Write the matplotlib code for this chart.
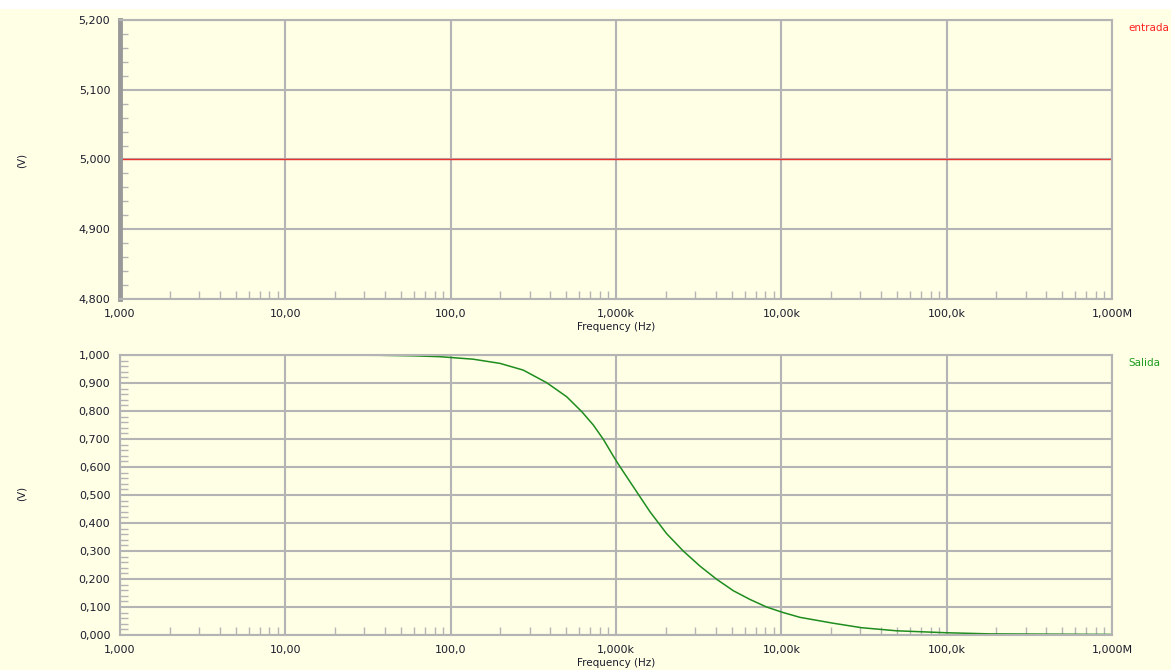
import matplotlib.pyplot as plt
from matplotlib.patches import Rectangle

# datos
freq_in = [1, 1e6]
entrada = [5.0, 5.0]

freq_out = [1, 10, 37, 60, 86, 137, 199, 275, 381, 503, 620, 729, 838, 963,
            1033, 1271, 1606, 2024, 2551, 3221, 4063, 5129, 6460, 8140, 10150,
            12970, 20620, 30600, 49800, 100000, 183000, 1e6]
salida = [1.000, 1.000, 0.999, 0.997, 0.994, 0.985, 0.970, 0.946, 0.901, 0.851,
          0.798, 0.750, 0.699, 0.639, 0.610, 0.530, 0.440, 0.362, 0.300, 0.246,
          0.199, 0.158, 0.127, 0.100, 0.081, 0.063, 0.042, 0.026, 0.015, 0.008,
          0.004, 0.002]

xticks = [1, 10, 100, 1e3, 1e4, 1e5, 1e6]
xlabels = ['1,000', '10,00', '100,0', '1,000k', '10,00k', '100,0k', '1,000M']
yticks_top = [4.8, 4.9, 5.0, 5.1, 5.2]
ylabels_top = ['4,800', '4,900', '5,000', '5,100', '5,200']
yticks_bot = [i / 10 for i in range(11)]
ylabels_bot = ['%.3f' % v for v in yticks_bot]
ylabels_bot = [s.replace('.', ',') for s in ylabels_bot]

bg = '#ffffe6'
gridc = '#b4b4b4'
txt = '#1c1c2c'

W, H = 1171, 670
fig = plt.figure(figsize=(W / 100, H / 100), dpi=100, facecolor=bg)
fig.add_artist(Rectangle((0, 1 - 9 / H), 1, 9 / H, transform=fig.transFigure,
                         facecolor='white', edgecolor='none'))

x0, x1 = 120 / W, 1112 / W
ax1 = fig.add_axes([x0, 1 - 299 / H, x1 - x0, 279 / H])
ax2 = fig.add_axes([x0, 1 - 635 / H, x1 - x0, 280 / H])


def style(ax, yticks, ylabels, ymin, ymax, minor_step):
    ax.set_facecolor(bg)
    ax.set_xscale('log')
    ax.set_xlim(1, 1e6)
    ax.set_ylim(ymin, ymax)
    ax.set_xticks(xticks, xlabels)
    ax.set_yticks(yticks, ylabels)
    n = int(round((ymax - ymin) / minor_step))
    ax.set_yticks([ymin + i * minor_step for i in range(n + 1)], minor=True)
    ax.grid(True, which='major', color=gridc, linewidth=1.5)
    ax.tick_params(which='major', length=0, labelsize=8, labelcolor=txt, pad=7)
    ax.tick_params(which='minor', direction='in', length=6, width=1, color=gridc)
    ax.tick_params(axis='x', which='minor', labelbottom=False)
    for s in ax.spines.values():
        s.set_color(gridc)
        s.set_linewidth(1.5)
    ax.set_xlabel('Frequency (Hz)', fontsize=7.5, color=txt, labelpad=2)


style(ax1, yticks_top, ylabels_top, 4.8, 5.2, 0.02)
style(ax2, yticks_bot, ylabels_bot, 0.0, 1.0, 0.02)
ax1.spines['left'].set_linewidth(3.5)
ax1.spines['left'].set_color('#999999')

ax1.plot(freq_in, entrada, color='#e8322e', linewidth=1)
ax2.plot(freq_out, salida, color='#1e8c1e', linewidth=1.1)

fig.text(22 / W, 1 - 160 / H, '(V)', rotation=90, fontsize=7.5, color=txt,
         ha='center', va='center')
fig.text(22 / W, 1 - 493 / H, '(V)', rotation=90, fontsize=7.5, color=txt,
         ha='center', va='center')
fig.text(1128 / W, 1 - 28 / H, 'entrada', fontsize=7.5, color='#ff2020',
         ha='left', va='center')
fig.text(1128 / W, 1 - 363 / H, 'Salida', fontsize=7.5, color='#1e9c1e',
         ha='left', va='center')

fig.savefig('out.png', dpi=100, facecolor=bg)
